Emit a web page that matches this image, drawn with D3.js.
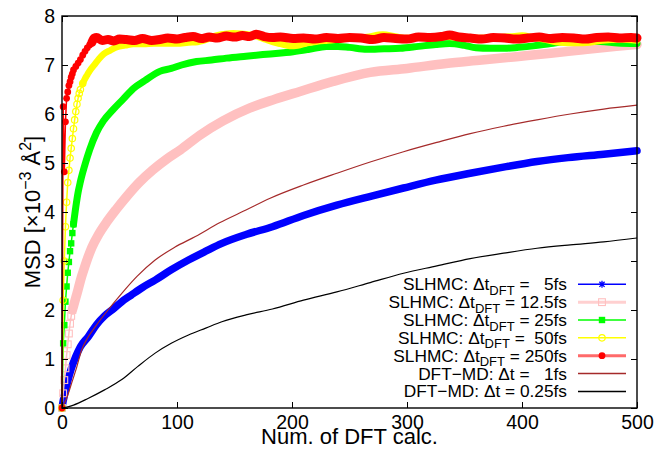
<!DOCTYPE html>
<html><head><meta charset="utf-8">
<script src="https://cdn.jsdelivr.net/npm/d3@7/dist/d3.min.js"></script>
<style>
body{margin:0;background:#fff}
text{font-family:"Liberation Sans",Arial,Helvetica,sans-serif;fill:#000;white-space:pre}
</style>
</head><body>
<svg id="c" width="671" height="454" xml:space="preserve"></svg>
<script>
// ---- data ----
const xTicks=[0,100,200,300,400,500];
const yTicks=[0,1,2,3,4,5,6,7,8];

const blueX=[0,1,2,3,5,8,12,16,23,30,37,45,52,60,70,81,95,110,125,139,160,183,210,239,270,297,325,355,385,413,440,471,500];
const blueY=[0,0.14,0.25,0.35,0.55,0.8,1.05,1.25,1.46,1.7,1.88,2.03,2.17,2.3,2.46,2.61,2.82,3.02,3.2,3.36,3.54,3.7,3.93,4.14,4.33,4.49,4.65,4.79,4.92,5.03,5.11,5.18,5.25];

const pinkX=[0,1,2,3,4,5,6,7,8,9,10,12,14,17,20,26,32,39,47,56,67,79,91,103,120,140,163,185,207,235,268,300,334,365,395,425,453,482,500];
const pinkY=[0,0.3,0.57,0.81,1.08,1.3,1.52,1.72,1.88,2.0,2.08,2.25,2.42,2.68,2.9,3.28,3.55,3.8,4.05,4.31,4.6,4.86,5.08,5.27,5.57,5.86,6.12,6.3,6.46,6.66,6.85,6.93,7.03,7.1,7.17,7.24,7.31,7.38,7.42];

const greenX=[0,1,2,3,4,5,6,7,8,9,10,12,14,16,20,24,30,36,44,53,62,72,85,95,104,117,130,143,160,178,201,215,230,240,250,265,280,294,310,325,337,350,360,372,385,397,410,425,439,455,468,483,500];
const greenY=[0,1.32,1.69,2.17,2.48,2.76,2.98,3.2,3.36,3.57,3.75,4.1,4.4,4.62,4.97,5.27,5.62,5.86,6.08,6.3,6.52,6.68,6.87,6.93,7.0,7.07,7.1,7.14,7.18,7.22,7.27,7.32,7.38,7.38,7.36,7.32,7.33,7.34,7.38,7.42,7.44,7.4,7.35,7.34,7.34,7.36,7.39,7.44,7.48,7.48,7.48,7.45,7.44];

const yellowX=[0,1,2,3,4,5,6,7,8,9,10,11,12,13,14,15,16,18,20,22,24,28,32,36,42,48,55,62,71,80,90,100,110,118,126,134,141,149,156,163,170,177,183,190,198,205,213,222,231,240,250,265,279,290,300,315,330,345,360,375,390,400,410,420,433,446,459,470,485,500];
const yellowY=[0,2.2,3.0,3.7,4.2,4.6,4.85,5.1,5.3,5.5,5.7,5.88,6.05,6.2,6.32,6.42,6.5,6.62,6.72,6.8,6.88,7.0,7.12,7.22,7.3,7.37,7.4,7.43,7.43,7.44,7.44,7.44,7.46,7.47,7.52,7.6,7.63,7.65,7.64,7.62,7.58,7.52,7.47,7.43,7.39,7.4,7.45,7.48,7.5,7.52,7.54,7.57,7.62,7.58,7.55,7.57,7.58,7.56,7.55,7.56,7.58,7.6,7.56,7.52,7.46,7.45,7.46,7.5,7.52,7.5];

const redX=[0,1,2,3,4,5,6,7,8,9,10,12,14,16,18,20,22,24,26,28,30,35,40,45,50,56,63,70,78,85,92,100,107,114,121,128,135,143,150,157,163,169,176,183,190,201,210,220,230,240,250,260,270,280,290,300,310,320,330,337,345,355,365,375,385,395,405,415,425,435,445,455,465,475,485,495,500];
const redY=[0,6.15,4.82,5.84,6.32,6.45,6.58,6.66,6.75,6.82,6.9,6.97,7.04,7.11,7.2,7.28,7.35,7.41,7.46,7.55,7.56,7.5,7.52,7.49,7.53,7.52,7.5,7.54,7.5,7.52,7.55,7.53,7.56,7.58,7.54,7.57,7.55,7.59,7.57,7.6,7.58,7.63,7.58,7.56,7.57,7.54,7.55,7.53,7.56,7.54,7.56,7.55,7.52,7.56,7.54,7.53,7.57,7.56,7.58,7.61,7.57,7.55,7.53,7.56,7.55,7.53,7.55,7.57,7.54,7.56,7.55,7.53,7.56,7.57,7.55,7.56,7.55];

const md1X=[0,4,8,13,17,22,29,40,52,65,81,98,116,137,160,181,210,239,268,297,326,355,384,413,442,471,500];
const md1Y=[0,0.2,0.48,0.85,1.18,1.42,1.66,2.0,2.34,2.68,3.02,3.28,3.5,3.78,4.04,4.28,4.55,4.79,5.02,5.23,5.42,5.6,5.75,5.88,6.0,6.1,6.18];

const md025X=[0,10,23,37,52,66,81,95,110,125,139,160,183,210,239,268,297,326,355,384,413,442,471,500];
const md025Y=[0,0.06,0.2,0.37,0.58,0.85,1.12,1.32,1.49,1.63,1.76,1.9,2.02,2.2,2.37,2.56,2.75,2.9,3.05,3.16,3.26,3.33,3.39,3.47];

const legendLabels=[
  ["SLHMC: \u0394t","DFT"," =   5fs"],
  ["SLHMC: \u0394t","DFT"," = 12.5fs"],
  ["SLHMC: \u0394t","DFT"," = 25fs"],
  ["SLHMC: \u0394t","DFT"," =  50fs"],
  ["SLHMC: \u0394t","DFT"," = 250fs"],
  ["DFT\u2212MD: \u0394t =   1fs"],
  ["DFT\u2212MD: \u0394t = 0.25fs"]
];

// ---- styles ----
const series=[
  {xs:blueX, ys:blueY, color:"#0000ff", marker:"star",  bandFrom:0,  bandW:7.5,lw:1.5, legW:1.5, legColor:"#0000ff"},
  {xs:pinkX, ys:pinkY, color:"#ffc0c0", marker:"osq",   bandFrom:10, bandW:9.5,lw:1.5, legW:3,   legColor:"#ffd0d0"},
  {xs:greenX,ys:greenY,color:"#00ff00", marker:"fsq",   bandFrom:11, bandW:7,  lw:1.5, legW:1.5, legColor:"#00ff00"},
  {xs:yellowX,ys:yellowY,color:"#ffff00",marker:"ocir", bandFrom:19, bandW:6.5,lw:1.5, legW:1.5, legColor:"#ffff00"},
  {xs:redX,  ys:redY,  color:"#ff0000", marker:"fcir",  bandFrom:27, bandW:9,  lw:1.5, legW:3,   legColor:"#ff6a6a"},
  {xs:md1X,  ys:md1Y,  color:"#a52a2a", marker:null,    lw:1.2, legW:1.5, legColor:"#a52a2a"},
  {xs:md025X,ys:md025Y,color:"#000000", marker:null,    lw:1.2, legW:1.5, legColor:"#000000"}
];

const L=62,R=637,T=16,B=408;
const x=d3.scaleLinear().domain([0,500]).range([L,R]);
const y=d3.scaleLinear().domain([0,8]).range([B,T]);
const svg=d3.select("#c");

function drawMarker(g,type,cx,cy,color){
  if(type==="star"){
    g.append("path").attr("d",`M${cx-3.5},${cy}H${cx+3.5}M${cx},${cy-3.5}V${cy+3.5}M${cx-2.6},${cy-2.6}L${cx+2.6},${cy+2.6}M${cx-2.6},${cy+2.6}L${cx+2.6},${cy-2.6}`)
      .attr("stroke",color).attr("stroke-width",1.3).attr("fill","none");
  } else if(type==="osq"){
    g.append("rect").attr("x",cx-3.4).attr("y",cy-3.4).attr("width",6.8).attr("height",6.8)
      .attr("fill","none").attr("stroke",color).attr("stroke-width",1.1);
  } else if(type==="fsq"){
    g.append("rect").attr("x",cx-3.2).attr("y",cy-3.2).attr("width",6.4).attr("height",6.4).attr("fill",color);
  } else if(type==="ocir"){
    g.append("circle").attr("cx",cx).attr("cy",cy).attr("r",3.2).attr("fill","none").attr("stroke",color).attr("stroke-width",1.2);
  } else if(type==="fcir"){
    g.append("circle").attr("cx",cx).attr("cy",cy).attr("r",3.4).attr("fill",color);
  }
}

const line=d3.line().x(d=>x(d[0])).y(d=>y(d[1]));
const smooth=d3.line().curve(d3.curveMonotoneX).x(d=>x(d[0])).y(d=>y(d[1]));
const plot=svg.append("g");
series.forEach(s=>{
  const pts=s.xs.map((v,i)=>[v,s.ys[i]]);
  const g=plot.append("g");
  g.append("path").attr("d",(s.marker?line:smooth)(pts)).attr("fill","none").attr("stroke",s.color).attr("stroke-width",s.lw).attr("stroke-linejoin","round");
  if(s.marker){
    let k=pts.findIndex(p=>p[0]>=s.bandFrom);
    const band=pts.slice(Math.max(0,k-1));
    g.append("path").attr("d",smooth(band)).attr("fill","none").attr("stroke",s.color)
      .attr("stroke-width",s.bandW).attr("stroke-linejoin","round").attr("stroke-linecap","round");
    pts.filter(p=>p[0]<s.bandFrom).forEach(p=>drawMarker(g,s.marker,x(p[0]),y(p[1]),s.color));
  }
});

// axes (ticks inward, mirrored)
const fs=19.5;
const ax=svg.append("g").attr("transform",`translate(0,${B})`)
  .call(d3.axisBottom(x).tickValues(xTicks).tickSizeInner(-6).tickSizeOuter(0).tickPadding(7));
const ay=svg.append("g").attr("transform",`translate(${L},0)`)
  .call(d3.axisLeft(y).tickValues(yTicks).tickSizeInner(-6).tickSizeOuter(0).tickPadding(7));
const at=svg.append("g").attr("transform",`translate(0,${T})`)
  .call(d3.axisTop(x).tickValues(xTicks).tickSizeInner(-6).tickSizeOuter(0).tickFormat(""));
const ar=svg.append("g").attr("transform",`translate(${R},0)`)
  .call(d3.axisRight(y).tickValues(yTicks).tickSizeInner(-6).tickSizeOuter(0).tickFormat(""));
[ax,ay,at,ar].forEach(a=>{
  a.select(".domain").remove();
  a.selectAll(".tick line").attr("stroke","#000").attr("stroke-width",1);
  a.selectAll("text").attr("font-size",fs).attr("font-family",null).style("fill","#000");
});
svg.append("rect").attr("x",L).attr("y",T).attr("width",R-L).attr("height",B-T)
  .attr("fill","none").attr("stroke","#000").attr("stroke-width",1.4);

// axis labels
svg.append("text").attr("x",(L+R)/2).attr("y",444).attr("text-anchor","middle").attr("font-size",22)
  .text("Num. of DFT calc.");
const yl=svg.append("text").attr("transform",`translate(39.5,${(T+B)/2}) rotate(-90)`).attr("text-anchor","middle").attr("font-size",22);
yl.append("tspan").text("MSD [\u00d710");
yl.append("tspan").attr("dy",-9).attr("font-size",16).text("\u22123");
yl.append("tspan").attr("dy",9).text(" \u00c5");
yl.append("tspan").attr("dy",-9).attr("font-size",16).text("2");
yl.append("tspan").attr("dy",9).text("]");

// legend
const leg=svg.append("g");
series.forEach((s,i)=>{
  const cy=284.3+i*17.85;
  const t=leg.append("text").attr("x",567).attr("y",cy+6).attr("text-anchor","end").attr("font-size",17.3);
  const lab=legendLabels[i];
  if(lab.length===3){
    t.append("tspan").text(lab[0]);
    t.append("tspan").attr("dy",4.5).attr("font-size",13).text(lab[1]);
    t.append("tspan").attr("dy",-4.5).text(lab[2]);
  } else t.append("tspan").text(lab[0]);
  leg.append("line").attr("x1",578).attr("x2",626).attr("y1",cy).attr("y2",cy)
    .attr("stroke",s.legColor).attr("stroke-width",s.legW);
  if(s.marker) drawMarker(leg,s.marker,602,cy,s.color);
});
</script>
</body></html>
